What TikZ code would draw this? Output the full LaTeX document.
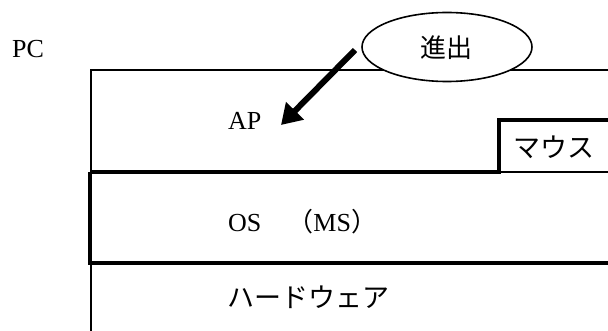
\documentclass[tikz,border=0pt]{standalone}
\usepackage{fontspec}
\setmainfont{Liberation Serif}
\newfontfamily\jp{Noto Sans CJK JP}
\usetikzlibrary{shapes.geometric,arrows.meta}
\tikzset{
  thin line/.style={line width=1.6pt},
  thick line/.style={line width=3.6pt},
  lbl/.style={anchor=west,inner sep=0pt,font=\fontsize{26}{26}\selectfont},
  jlbl/.style={anchor=west,inner sep=0pt,font=\jp\fontsize{27}{27}\selectfont},
}
\begin{document}
\begin{tikzpicture}[x=1pt,y=-1pt]
\useasboundingbox (0,0) rectangle (608,331);
% outer box
\draw[thin line] (91,331) -- (91,70) -- (608,70);
\draw[thin line] (499,172) -- (608,172);
\draw[thick line] (90,172) -- (499,172) -- (499,120) -- (608,120);
\draw[thick line] (90,172) -- (90,263) -- (608,263);
% ellipse
\node[ellipse,draw,thin line,fill=white,minimum width=170pt,minimum height=69pt,inner sep=0pt] (ext) at (447,47) {};
\node[jlbl,anchor=center,font=\jp\fontsize{26}{26}\selectfont] (extt) at (446,48) {進出};
\coordinate (tail) at (355,50);
\coordinate (tip) at (281,125);
\draw[line width=6pt,-{Triangle[length=20pt,width=24pt]}] (tail) -- (tip);
% labels
\node[lbl,anchor=base west] (pc) at (12,58) {PC};
\node[lbl,anchor=base west] (ap) at (228,130) {AP};
\node[lbl,anchor=base west] (os) at (228,232) {OS{\jp 　（}MS{\jp ）}};
\node[jlbl] (hw) at (227,297) {ハードウェア};
\node[jlbl] (ms) at (513,147) {マウス};
\end{tikzpicture}
\end{document}
